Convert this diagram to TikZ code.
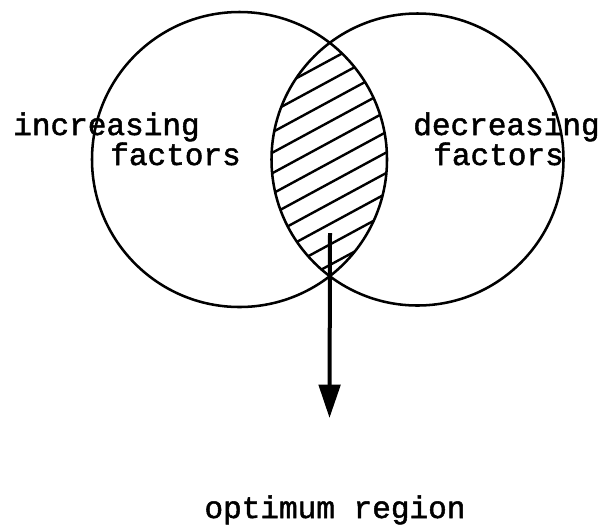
\documentclass[tikz,border=0pt]{standalone}
\usepackage{fontspec}
\setmonofont[FakeBold=1.6]{Liberation Mono}
\usetikzlibrary{arrows.meta,calc}
\tikzset{
  ring/.style={draw, circle, inner sep=0pt, line width=1.9pt},
  hatch/.style={line width=1.8pt},
  lbl/.style={inner sep=0pt, anchor=base west, font=\ttfamily\fontsize{23.3pt}{28pt}\selectfont},
  shaft/.style={line width=3pt, -{Triangle[length=25pt,width=16pt]}}
}
\begin{document}
\begin{tikzpicture}[x=0.75pt,y=-0.75pt]
\useasboundingbox (0,0) rectangle (602,526);
\node[ring, minimum size=221.25pt] (L) at (239.5,159.5) {};
\node[ring, minimum size=219pt] (R) at (417.5,159.5) {};
\begin{scope}
  \clip (239.5,159.5) circle[radius=110.6pt];
  \clip (417.5,159.5) circle[radius=109.5pt];
  \foreach \k in {-8,...,8} {
    \draw[hatch] ($(329,163)+(\k*9.4,\k*15.4)+(-170,92)$) -- ($(329,163)+(\k*9.4,\k*15.4)+(170,-92)$);
  }
\end{scope}
\node[lbl] (inc) at (13,135) {increasing};
\node[lbl] (incf) at (110,165) {factors};
\node[lbl] (dec) at (413,135) {decreasing};
\node[lbl] (decf) at (433,165) {factors};
\node[lbl, anchor=base] (opt) at (335,518) {optimum region};
\coordinate (top) at (330,233);
\coordinate (tip) at (329.5,418);
\draw[shaft] (top) -- (tip);
\end{tikzpicture}
\end{document}
